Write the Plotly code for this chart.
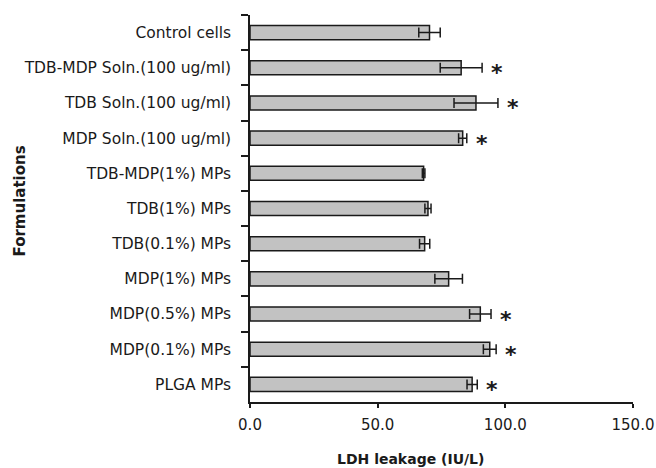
import plotly.graph_objects as go

categories = [
    "Control cells",
    "TDB-MDP Soln.(100 ug/ml)",
    "TDB Soln.(100 ug/ml)",
    "MDP Soln.(100 ug/ml)",
    "TDB-MDP(1%) MPs",
    "TDB(1%) MPs",
    "TDB(0.1%) MPs",
    "MDP(1%) MPs",
    "MDP(0.5%) MPs",
    "MDP(0.1%) MPs",
    "PLGA MPs",
]
ldh_values = [70.3, 82.7, 88.5, 83.3, 68.0, 69.7, 68.4, 77.8, 90.2, 93.9, 87.0]
ldh_errors = [4.2, 8.2, 8.6, 1.6, 0.5, 1.2, 2.0, 5.4, 4.2, 2.5, 2.0]
significant = [False, True, True, True, False, False, False, False, True, True, True]
x_ticks = [0, 50, 100, 150]

INK = "#1a1a1a"
FONT = "DejaVu Sans"

fig = go.Figure()
fig.add_trace(go.Bar(
    y=categories,
    x=ldh_values,
    orientation="h",
    marker=dict(color="#c2c2c2", line=dict(color=INK, width=1.5)),
    error_x=dict(type="data", array=ldh_errors, visible=True,
                 color=INK, thickness=1.5, width=5),
    showlegend=False,
))

annotations = []
for cat, v, e, s in zip(categories, ldh_values, ldh_errors, significant):
    if s:
        annotations.append(dict(
            x=v + e, y=cat, xref="x", yref="y", text="<b>*</b>", showarrow=False,
            xanchor="center", yanchor="middle", xshift=15, yshift=-5,
            font=dict(family=FONT, size=22, color=INK),
        ))

annotations.append(dict(
    text="<b>Formulations</b>", xref="paper", yref="paper", x=0, y=0.5,
    xanchor="center", yanchor="middle", xshift=-231, yshift=7, textangle=-90,
    showarrow=False, font=dict(family=FONT, size=15, color=INK),
))
annotations.append(dict(
    text="<b>LDH leakage (IU/L)</b>", xref="paper", yref="paper", x=0.5, y=0,
    xanchor="center", yanchor="middle", xshift=-31, yshift=-57,
    showarrow=False, font=dict(family=FONT, size=14, color=INK),
))

fig.update_layout(
    width=656, height=468,
    margin=dict(l=250, r=23, t=15, b=66, autoexpand=False),
    plot_bgcolor="white", paper_bgcolor="white",
    bargap=0.6,
    font=dict(family=FONT, size=15.5, color=INK),
    annotations=annotations,
)
fig.update_xaxes(
    range=[0, 150], tickvals=x_ticks, tickformat=".1f",
    showline=True, linecolor=INK, linewidth=1.5,
    ticks="outside", ticklen=4, tickcolor=INK, tickwidth=1.5,
    showgrid=False, zeroline=False, automargin=False,
    ticklabelstandoff=4, tickfont=dict(size=15),
)
fig.update_yaxes(
    type="category", categoryorder="array", categoryarray=categories,
    autorange="reversed",
    showline=True, linecolor=INK, linewidth=1.5,
    ticks="outside", ticklen=7, tickcolor=INK, tickwidth=1.5,
    tickson="boundaries", showgrid=False, zeroline=False, automargin=False,
    ticklabelstandoff=14,
)

fig.write_html("out.html")
